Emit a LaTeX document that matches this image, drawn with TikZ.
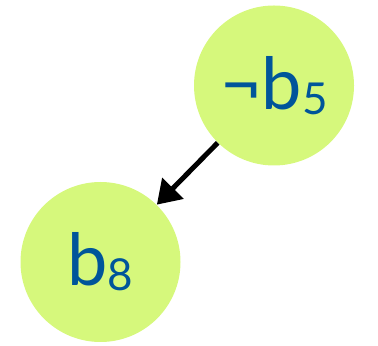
\documentclass[tikz,border=0pt]{standalone}
\usepackage{fontspec}
\setmainfont{Lato}
\usetikzlibrary{arrows.meta, positioning}
\definecolor{litgreen}{HTML}{D6F87C}
\definecolor{litblue}{HTML}{00559A}
\newcommand{\lsub}[1]{\raisebox{-2.5pt}{\fontsize{22}{24}\selectfont #1}}

\begin{document}
\begin{tikzpicture}[
    x=0.5pt, y=0.5pt,
    lit/.style={circle, fill=litgreen, minimum size=80pt, inner sep=0pt, text=litblue, font=\fontsize{36}{40}\selectfont},
    arr/.style={-{Triangle[length=11.5pt, width=14.5pt]}, line width=2.5pt, black},
]
\useasboundingbox (0, 0) rectangle (378, 346);

% ── Literals ──
\node[lit] (negb5) at (274, 260.5) {¬b\lsub{5}};
\node[lit] (b8) at (100.5, 84) {b\lsub{8}};

% ── Implication ──
\draw[arr] (negb5) -- (b8);

\end{tikzpicture}
\end{document}
